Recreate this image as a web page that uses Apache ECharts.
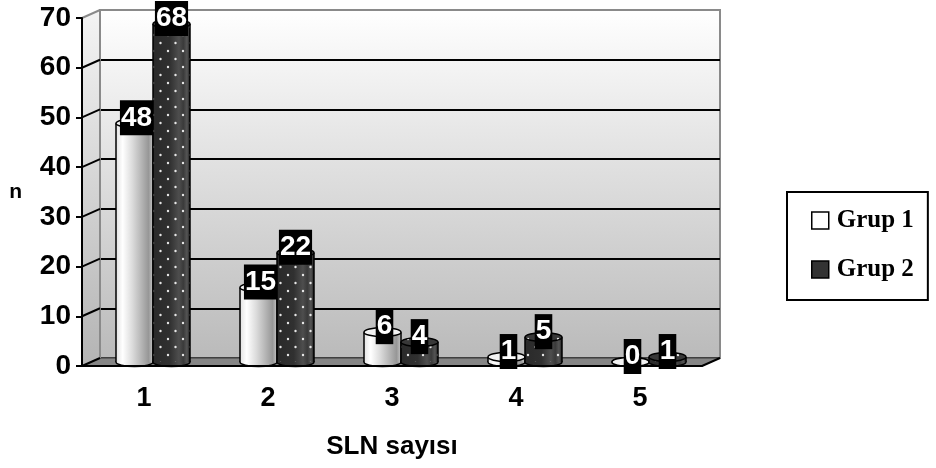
<!DOCTYPE html>
<html>
<head>
<meta charset="utf-8">
<script src="https://cdn.jsdelivr.net/npm/echarts@6/dist/echarts.min.js"></script>
<style>html,body{margin:0;padding:0;background:#fff}#c{width:936px;height:468px}</style>
</head>
<body>
<div id="c"></div>
<script>
const categories = ['1', '2', '3', '4', '5'];
const grup1 = [48, 15, 6, 1, 0];
const grup2 = [68, 22, 4, 5, 1];
const yTicks = [0, 10, 20, 30, 40, 50, 60, 70];
const seriesNames = ['Grup 1', 'Grup 2'];
const xTitle = 'SLN sayısı';
const yTitle = 'n';

const FONT = "'Liberation Sans', Arial, sans-serif";
const DX = 18, DY = -8;

// dotted pattern for Grup 2
const pc = document.createElement('canvas');
pc.width = 15; pc.height = 16;
const pctx = pc.getContext('2d');
pctx.fillStyle = 'rgba(240,240,240,0.95)';
pctx.beginPath(); pctx.arc(3, 3, 1.2, 0, Math.PI * 2); pctx.fill();
pctx.beginPath(); pctx.arc(10.5, 11, 1.2, 0, Math.PI * 2); pctx.fill();
const dotPattern = { image: pc, repeat: 'repeat' };

function hGrad(stops) {
  return { type: 'linear', x: 0, y: 0, x2: 1, y2: 0, colorStops: stops.map(s => ({ offset: s[0], color: s[1] })) };
}
const body1 = hGrad([[0, '#e2e2e2'], [0.18, '#ffffff'], [0.45, '#dadada'], [0.72, '#b0b0b0'], [0.88, '#979797'], [1, '#c4c4c4']]);
const body2 = hGrad([[0, '#2a2a2a'], [0.45, '#303030'], [0.7, '#4e4e4e'], [0.82, '#3a3a3a'], [0.92, '#555555'], [1, '#1e1e1e']]);

function cylRender(sIdx) {
  return function (params, api) {
    const cat = api.value(0), v = api.value(1);
    const top = api.coord([cat, v]);
    const base = api.coord([cat, 0]);
    const W = 37, RY = 4.5;
    const cx = top[0] + (sIdx === 0 ? -W / 2 : W / 2);
    const x0 = cx - W / 2;
    const fill = sIdx === 0 ? body1 : body2;
    const ch = [];
    ch.push({ type: 'ellipse', shape: { cx: cx, cy: base[1], rx: W / 2, ry: RY }, style: { fill: fill, stroke: '#000', lineWidth: 1.5 } });
    const h = base[1] - top[1];
    if (h > 0) {
      ch.push({ type: 'rect', shape: { x: x0, y: top[1], width: W, height: h }, style: { fill: fill } });
      if (sIdx === 1) {
        ch.push({ type: 'rect', shape: { x: x0, y: top[1], width: W, height: h }, style: { fill: dotPattern } });
      }
      ch.push({ type: 'line', shape: { x1: x0, y1: top[1], x2: x0, y2: base[1] }, style: { stroke: '#000', lineWidth: 1.5 } });
      ch.push({ type: 'line', shape: { x1: x0 + W, y1: top[1], x2: x0 + W, y2: base[1] }, style: { stroke: '#000', lineWidth: 1.5 } });
    }
    ch.push({ type: 'ellipse', shape: { cx: cx, cy: top[1], rx: W / 2, ry: RY }, style: { fill: sIdx === 0 ? '#f2f2f2' : '#383838', stroke: '#000', lineWidth: 1.5 } });
    if (sIdx === 1) {
      ch.push({ type: 'ellipse', shape: { cx: cx, cy: top[1], rx: W / 2 - 1, ry: RY - 1 }, style: { fill: dotPattern } });
    }
    ch.push({
      type: 'text', z2: 100,
      style: {
        text: String(v), x: cx + (sIdx === 0 ? 2 : 0), y: top[1] - 5.5,
        align: 'center', verticalAlign: 'middle',
        fill: '#fff', backgroundColor: '#000', padding: [1, 1, 0, 1],
        font: 'bold 28px ' + FONT, lineHeight: 34
      }
    });
    return { type: 'group', children: ch };
  };
}

function frameRender(params, api) {
  const cs = params.coordSys;
  const v = api.value(1);
  const y = api.coord([0, v])[1];
  const x = cs.x;
  const ch = [];
  if (params.dataIndex === 0) {
    const bottom = cs.y + cs.height, right = cs.x + cs.width;
    ch.push({
      type: 'polygon',
      shape: { points: [[x, cs.y], [x + DX, cs.y + DY], [x + DX, bottom + DY], [x, bottom]] },
      style: { fill: { type: 'linear', x: 0, y: 0, x2: 0, y2: 1, colorStops: [{ offset: 0, color: '#f4f4f4' }, { offset: 1, color: '#b4b4b4' }] } }
    });
    ch.push({
      type: 'polygon',
      shape: { points: [[x, bottom], [right, bottom], [right + DX, bottom + DY], [x + DX, bottom + DY]] },
      style: { fill: '#858585', stroke: '#3c3c3c', lineWidth: 1 }
    });
    ch.push({ type: 'line', shape: { x1: right, y1: bottom, x2: right + DX, y2: bottom + DY }, style: { stroke: '#000', lineWidth: 2 } });
    ch.push({ type: 'line', shape: { x1: x + DX, y1: cs.y + DY, x2: x + DX, y2: bottom + DY }, style: { stroke: '#8a8a8a', lineWidth: 2 } });
  }
  const last = v === yTicks[yTicks.length - 1];
  ch.push({ type: 'line', shape: { x1: x, y1: y, x2: x + DX, y2: y + DY }, style: { stroke: last ? '#8a8a8a' : '#000', lineWidth: 2 } });
  return { type: 'group', children: ch };
}

const splitColors = yTicks.map((t, i) => i === 0 ? '#444' : (i === yTicks.length - 1 ? '#8a8a8a' : '#000'));

const chart = echarts.init(document.getElementById('c'), null, { renderer: 'canvas' });
chart.setOption({
  animation: false,
  backgroundColor: '#fff',
  grid: [
    { left: 100, right: 216, top: 10, bottom: 110, show: true, borderColor: '#8a8a8a', borderWidth: 2,
      backgroundColor: { type: 'linear', x: 0, y: 0, x2: 0, y2: 1, colorStops: [{ offset: 0, color: '#ffffff' }, { offset: 1, color: '#bababa' }] } },
    { left: 82, right: 234, top: 18, bottom: 102 },
    { left: 91, right: 225, top: 14, bottom: 106 }
  ],
  xAxis: [
    { type: 'category', gridIndex: 0, data: categories, show: false },
    { type: 'category', gridIndex: 1, data: categories, z: 5,
      axisLine: { lineStyle: { color: '#000', width: 2 } },
      axisTick: { length: 8, lineStyle: { color: '#000', width: 2 } },
      axisLabel: { color: '#000', fontSize: 27, fontWeight: 'bold', fontFamily: FONT, margin: 19 },
      name: xTitle, nameLocation: 'middle', nameGap: 68,
      nameTextStyle: { color: '#000', fontSize: 26, fontWeight: 'bold', fontFamily: FONT } },
    { type: 'category', gridIndex: 2, data: categories, show: false }
  ],
  yAxis: [
    { type: 'value', gridIndex: 0, min: 0, max: 70, interval: 10,
      axisLine: { show: false }, axisTick: { show: false }, axisLabel: { show: false },
      splitLine: { show: true, lineStyle: { color: splitColors, width: 2 } } },
    { type: 'value', gridIndex: 1, min: 0, max: 70, interval: 10, z: 5,
      axisLine: { show: true, lineStyle: { color: '#000', width: 2 } },
      axisTick: { show: true, length: 6, lineStyle: { color: '#000', width: 2 } },
      axisLabel: { color: '#000', fontSize: 28, fontWeight: 'bold', fontFamily: FONT, margin: 11 },
      splitLine: { show: false },
      name: yTitle, nameLocation: 'middle', nameRotate: 0, nameGap: 60,
      nameTextStyle: { color: '#000', fontSize: 21, fontWeight: 'bold', fontFamily: FONT } },
    { type: 'value', gridIndex: 2, min: 0, max: 70, interval: 10, show: false }
  ],
  legend: {
    orient: 'vertical', left: 787, top: 192,
    padding: [16, 14, 18, 24], itemGap: 24, itemWidth: 17, itemHeight: 17,
    borderColor: '#000', borderWidth: 2, selectedMode: false,
    textStyle: { color: '#000', fontSize: 25, fontWeight: 'bold', fontFamily: "'Liberation Serif', 'Times New Roman', serif", padding: [0, 0, 0, 3] },
    data: [
      { name: seriesNames[0], icon: 'rect', itemStyle: { color: '#ffffff', borderColor: '#000', borderWidth: 1.5 } },
      { name: seriesNames[1], icon: 'rect', itemStyle: { color: '#333333', borderColor: '#000', borderWidth: 1.5 } }
    ]
  },
  series: [
    { type: 'custom', name: 'frame', xAxisIndex: 1, yAxisIndex: 1, z: 1, silent: true,
      renderItem: frameRender, data: yTicks.map(t => [0, t]) },
    { type: 'custom', name: seriesNames[0], xAxisIndex: 2, yAxisIndex: 2, z: 3,
      itemStyle: { color: '#ffffff' },
      renderItem: cylRender(0), data: categories.map((c, i) => [i, grup1[i]]) },
    { type: 'custom', name: seriesNames[1], xAxisIndex: 2, yAxisIndex: 2, z: 3,
      itemStyle: { color: '#333333' },
      renderItem: cylRender(1), data: categories.map((c, i) => [i, grup2[i]]) }
  ]
});
</script>
</body>
</html>
